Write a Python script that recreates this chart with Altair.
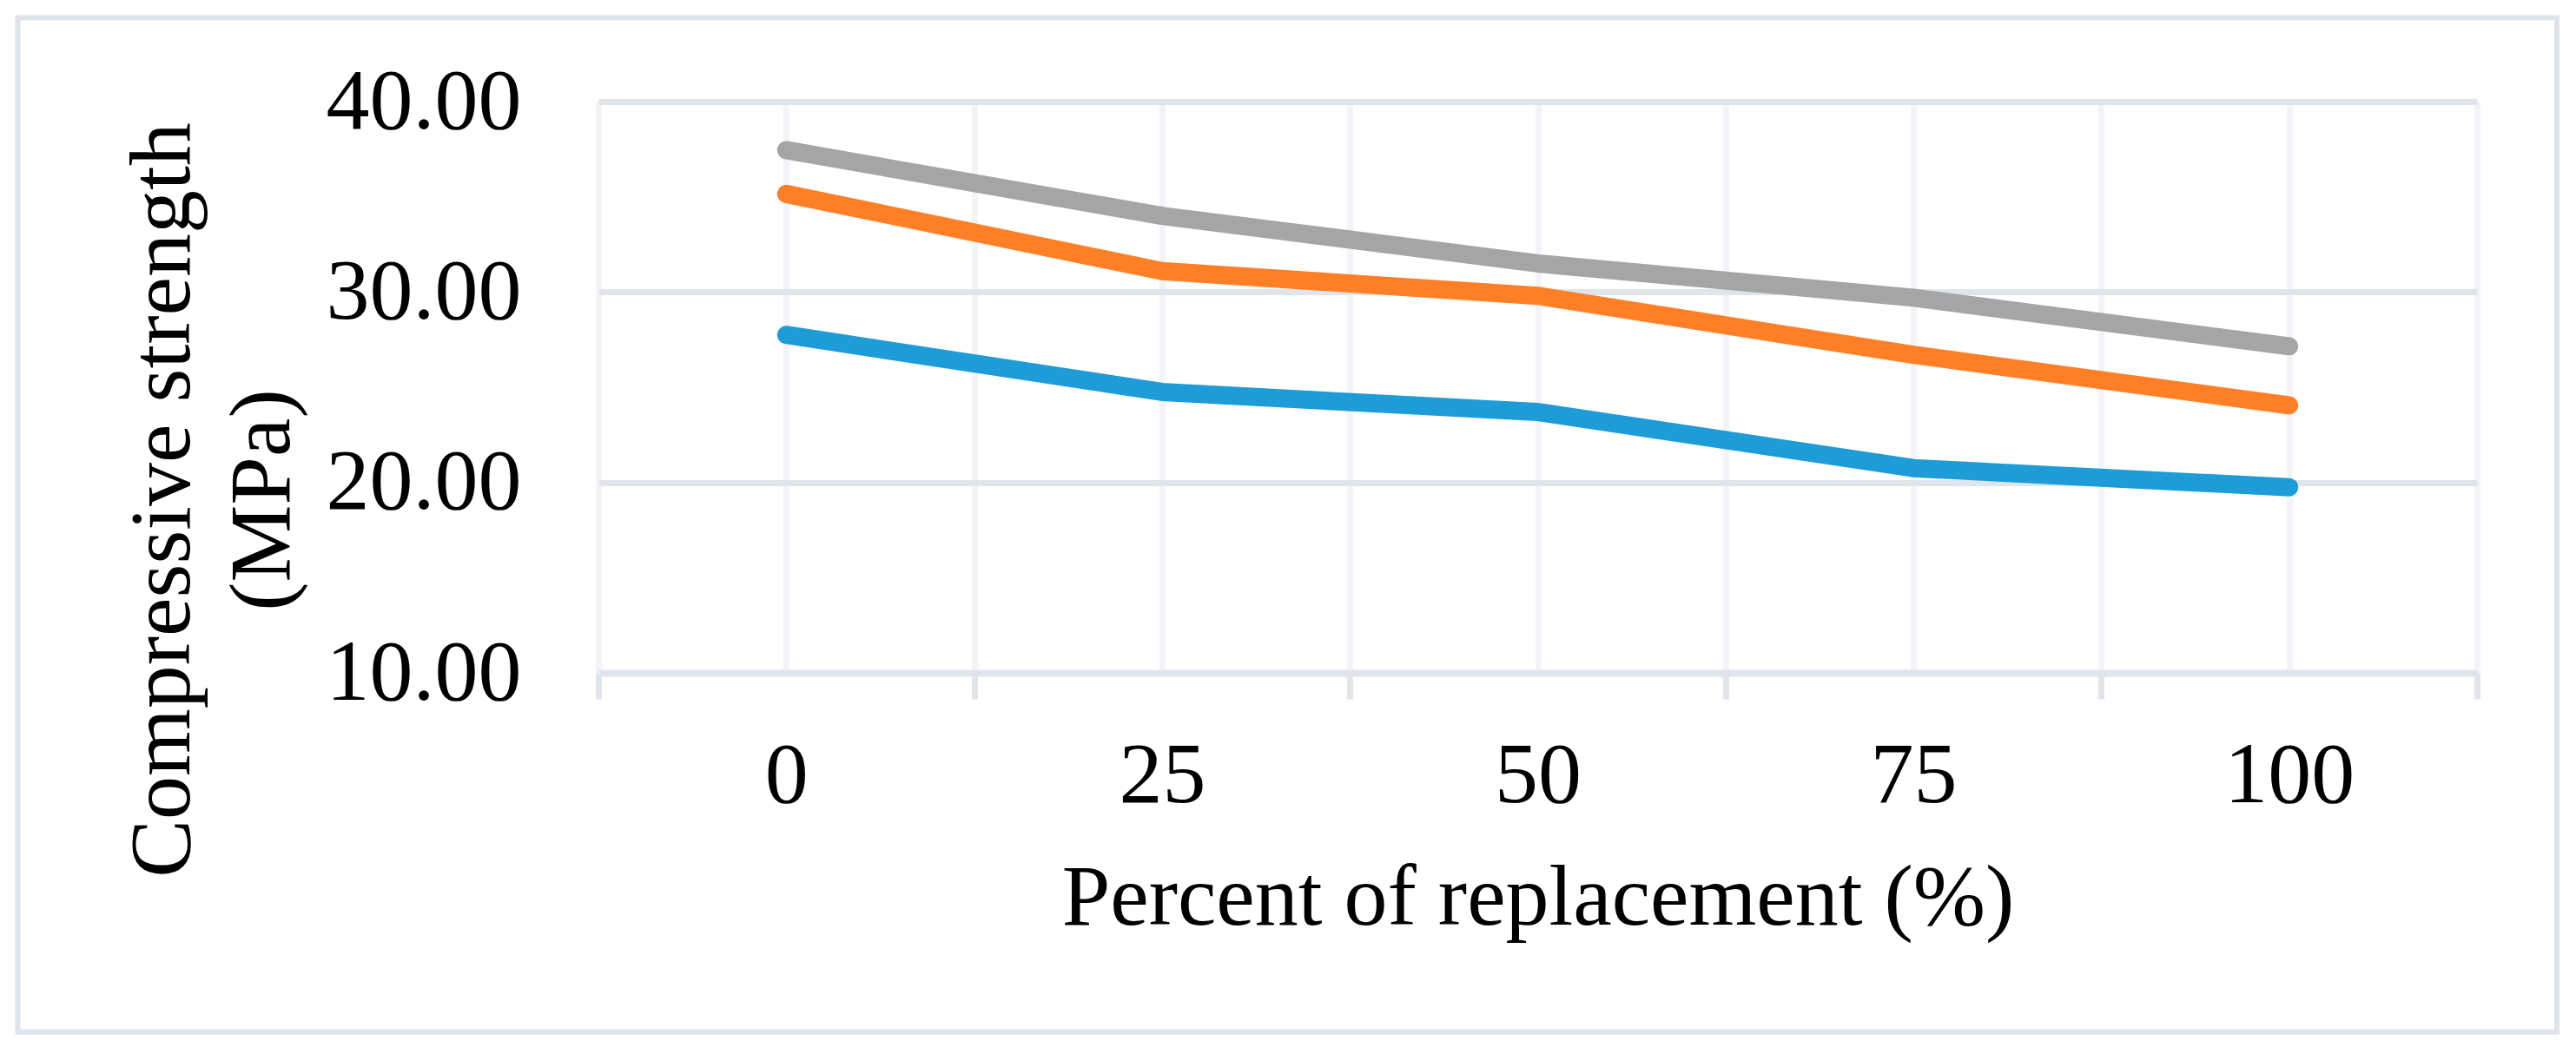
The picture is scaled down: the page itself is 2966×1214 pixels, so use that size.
import altair as alt
import pandas as pd

# ---- data ----
replacement = [0, 25, 50, 75, 100]
series_names = ["Series 3", "Series 2", "Series 1"]
gray_vals = [37.45, 34.0, 31.5, 29.7, 27.15]
orange_vals = [35.15, 31.1, 29.8, 26.7, 24.05]
blue_vals = [27.75, 24.75, 23.7, 20.75, 19.75]
y_ticks = [10, 20, 30, 40]
colors = ["#A5A5A5", "#FF7F27", "#1E9CD8"]

rows = []
for name, vals in zip(series_names, [gray_vals, orange_vals, blue_vals]):
    for x, v in zip(replacement, vals):
        rows.append({"replacement": x, "strength": v, "series": name})
df = pd.DataFrame(rows)

# category-style axis: points sit at band centres, ticks at band boundaries
step = replacement[1] - replacement[0]
half = step / 2
x_domain = [replacement[0] - half, replacement[-1] + half]
x_grid_vals = [replacement[0] - half + i * half for i in range(2 * len(replacement) + 1)]

W = 2163
H = 658
FONT = "Liberation Serif"
GRID_H = "#DFE5EB"
GRID_V = "#F2F4F7"

x_axis = alt.Axis(
    values=x_grid_vals,
    labelExpr="datum.value % 25 == 0 ? datum.label : ''",
    labelFlush=False,
    labelOverlap=False,
    labelLimit=1000,
    labelFont=FONT,
    labelFontSize=100,
    labelColor="black",
    labelBaseline="alphabetic",
    labelPadding=118,
    tickSize=30,
    tickWidth=7,
    tickColor=GRID_H,
    tickOpacity={"condition": {"test": "datum.value % 25 != 0", "value": 1}, "value": 0},
    grid=True,
    gridColor=GRID_V,
    gridWidth=7,
    domain=True,
    domainColor=GRID_H,
    domainWidth=8,
    title="Percent of replacement (%)",
    titleFont=FONT,
    titleFontSize=100,
    titleFontWeight="normal",
    titleColor="black",
    titleLimit=3000,
    titleBaseline="alphabetic",
    titleAlign="center",
    titleX=W / 2,
    titleY=289,
)

y_axis = alt.Axis(
    values=y_ticks,
    format=".2f",
    labelFont=FONT,
    labelFontSize=100,
    labelColor="black",
    labelLimit=1000,
    labelPadding=89,
    ticks=False,
    tickSize=0,
    domain=False,
    grid=True,
    gridColor=GRID_H,
    gridWidth=7,
    title=["Compressive strength", "(MPa)"],
    titleFont=FONT,
    titleFontSize=100,
    titleFontWeight="normal",
    titleColor="black",
    titleLimit=3000,
    titleAngle=270,
    titleAlign="center",
    titleBaseline="alphabetic",
    titleLineHeight=114.5,
    titleX=-471.5,
    titleY=458.5,
)

lines = alt.Chart(df).mark_line(strokeWidth=21, strokeCap="round", strokeJoin="round").encode(
    x=alt.X("replacement:Q", scale=alt.Scale(domain=x_domain, nice=False, zero=False), axis=x_axis),
    y=alt.Y("strength:Q", scale=alt.Scale(domain=[y_ticks[0], y_ticks[-1]], nice=False, zero=False), axis=y_axis),
    color=alt.Color("series:N", scale=alt.Scale(domain=series_names, range=colors), legend=None),
)

frame = alt.Chart(alt.Data(values=[{"f": 1}])).mark_rect(
    fillOpacity=0, stroke="#DEE4EA", strokeWidth=6
).encode(
    x=alt.value(-668.5),
    x2=alt.value(W + 92),
    y=alt.value(-96.5),
    y2=alt.value(H + 413.5),
)

chart = alt.layer(frame, lines).properties(
    width=W,
    height=H,
    padding={"left": 9, "top": 9, "right": 5, "bottom": 5},
    background="white",
).configure_view(strokeWidth=0)

chart.save("out.html", embed_options={"renderer": "svg", "actions": False})
